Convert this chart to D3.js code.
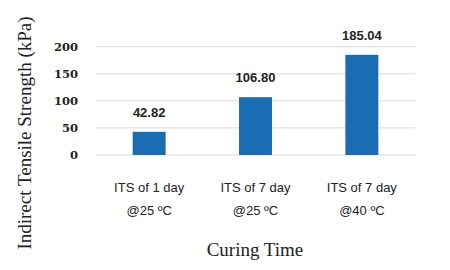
<html>
<head>
<script src="https://d3js.org/d3.v7.min.js"></script>
<style>
body { margin: 0; background: #fff; }
</style>
</head>
<body>
<div id="chart"></div>
<script>
// chart data
var categories = [["ITS of 1 day", "@25 \u00baC"], ["ITS of 7 day", "@25 \u00baC"], ["ITS of 7 day", "@40 \u00baC"]];
var values = [42.82, 106.80, 185.04];
var yTicks = [0, 50, 100, 150, 200];

var width = 450, height = 270;
var plotLeft = 96, plotRight = 415, plotTop = 46.7, plotBottom = 155;

var svg = d3.select("#chart").append("svg")
	.attr("width", width)
	.attr("height", height);

var x = d3.scaleBand()
	.domain(d3.range(categories.length))
	.range([plotLeft, plotRight])
	.paddingInner(0.69)
	.paddingOuter(0.345);

var y = d3.scaleLinear()
	.domain([0, 200])
	.range([plotBottom, plotTop]);

// gridlines
svg.selectAll(".grid")
	.data(yTicks)
	.enter().append("line")
	.attr("x1", plotLeft)
	.attr("x2", plotRight)
	.attr("y1", function(d) { return y(d); })
	.attr("y2", function(d) { return y(d); })
	.attr("stroke", "#d9d9d9")
	.attr("stroke-width", 1);

// y tick labels
svg.selectAll(".ytick")
	.data(yTicks)
	.enter().append("text")
	.attr("x", 78)
	.attr("y", function(d) { return y(d); })
	.attr("dy", "0.35em")
	.attr("text-anchor", "end")
	.style("font-family", "DejaVu Serif")
	.style("font-weight", "bold")
	.style("font-size", "11.5px")
	.style("fill", "#222")
	.text(function(d) { return d; });

// bars
svg.selectAll(".bar")
	.data(values)
	.enter().append("rect")
	.attr("x", function(d, i) { return x(i); })
	.attr("y", function(d) { return y(d); })
	.attr("width", x.bandwidth())
	.attr("height", function(d) { return y(0) - y(d); })
	.attr("fill", "#1b6db3");

// value labels
svg.selectAll(".val")
	.data(values)
	.enter().append("text")
	.attr("x", function(d, i) { return x(i) + x.bandwidth() / 2; })
	.attr("y", function(d) { return y(d) - 15; })
	.attr("text-anchor", "middle")
	.style("font-family", "Liberation Sans")
	.style("font-weight", "bold")
	.style("font-size", "13px")
	.style("fill", "#222")
	.text(function(d) { return d.toFixed(2); });

// category labels
var cat = svg.selectAll(".cat")
	.data(categories)
	.enter().append("text")
	.attr("text-anchor", "middle")
	.style("font-family", "Liberation Sans")
	.style("font-size", "13px")
	.style("fill", "#222");

cat.selectAll("tspan")
	.data(function(d, i) { return d.map(function(s, j) { return {s: s, i: i, j: j}; }); })
	.enter().append("tspan")
	.attr("x", function(d) { return x(d.i) + x.bandwidth() / 2; })
	.attr("y", function(d) { return 192 + d.j * 23; })
	.text(function(d) { return d.s; });

// axis titles
svg.append("text")
	.attr("x", 255)
	.attr("y", 256)
	.attr("text-anchor", "middle")
	.style("font-family", "Liberation Serif")
	.style("font-size", "19px")
	.style("fill", "#222")
	.text("Curing Time");

svg.append("text")
	.attr("transform", "translate(31,133) rotate(-90)")
	.attr("text-anchor", "middle")
	.style("font-family", "Liberation Serif")
	.style("font-size", "19px")
	.style("fill", "#222")
	.text("Indirect Tensile Strength (kPa)");
</script>
</body>
</html>
